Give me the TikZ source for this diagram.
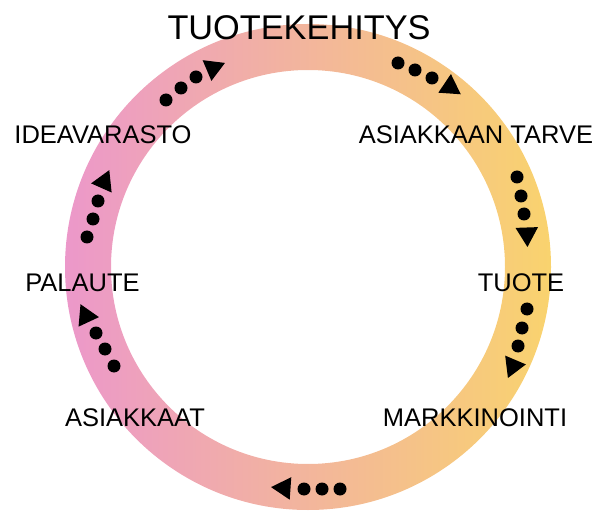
\documentclass[tikz,border=0pt]{standalone}
\usepackage{fontspec}
\setmainfont{Liberation Sans}
\definecolor{ringL}{RGB}{236,152,202}
\definecolor{ringM}{RGB}{241,178,152}
\definecolor{ringR}{RGB}{249,211,110}
\tikzset{
  lbl/.style={inner sep=0pt, anchor=base, font=\fontsize{25.5}{30}\selectfont, text=black},
  ttl/.style={inner sep=0pt, anchor=base, font=\fontsize{34.3}{40}\selectfont, text=black},
  dotmark/.style={fill=black},
  tipmark/.style={fill=black}
}
\newcommand{\arrowdots}[4]{%
  \foreach \px/\py in {#1} { \fill[dotmark] (\px,\py) circle (6.5); }
  \fill[tipmark,shift={(#2,#3)}] (#4:13) -- (#4+120:13) -- (#4+240:13) -- cycle;
}
\begin{document}
\begin{tikzpicture}[x=1pt,y=1pt]
\useasboundingbox (0,0) rectangle (597,512);
\coordinate (C) at (308,245);
% ring
\shade[left color=ringL, middle color=ringM, right color=ringR, even odd rule]
  (C) circle (243) (C) circle (197);
% dotted arrows (clockwise)
\arrowdots{166/412,181/424,196/435}{213}{444}{23}
\arrowdots{398/449,415/442,432/434}{450}{425}{-34}
\arrowdots{517/335,521/316,524/298}{527}{278}{-88}
\arrowdots{527/203,522/184,518/166}{513}{146}{-113}
\arrowdots{340/23,322/23,304/23}{284}{24}{176}
\arrowdots{114/146,105/163,96/179}{86}{196}{115}
\arrowdots{87/275,93/293,98/311}{104}{330}{66}
% labels
\node[ttl] (title) at (299,472) {TUOTEKEHITYS};
\node[lbl] (idea) at (103,368) {IDEAVARASTO};
\node[lbl] (tarve) at (476,368) {ASIAKKAAN TARVE};
\node[lbl] (palaute) at (82.5,220) {PALAUTE};
\node[lbl] (tuote) at (521,220) {TUOTE};
\node[lbl] (asiakkaat) at (135,86) {ASIAKKAAT};
\node[lbl] (markk) at (475,86) {MARKKINOINTI};
\end{tikzpicture}
\end{document}
